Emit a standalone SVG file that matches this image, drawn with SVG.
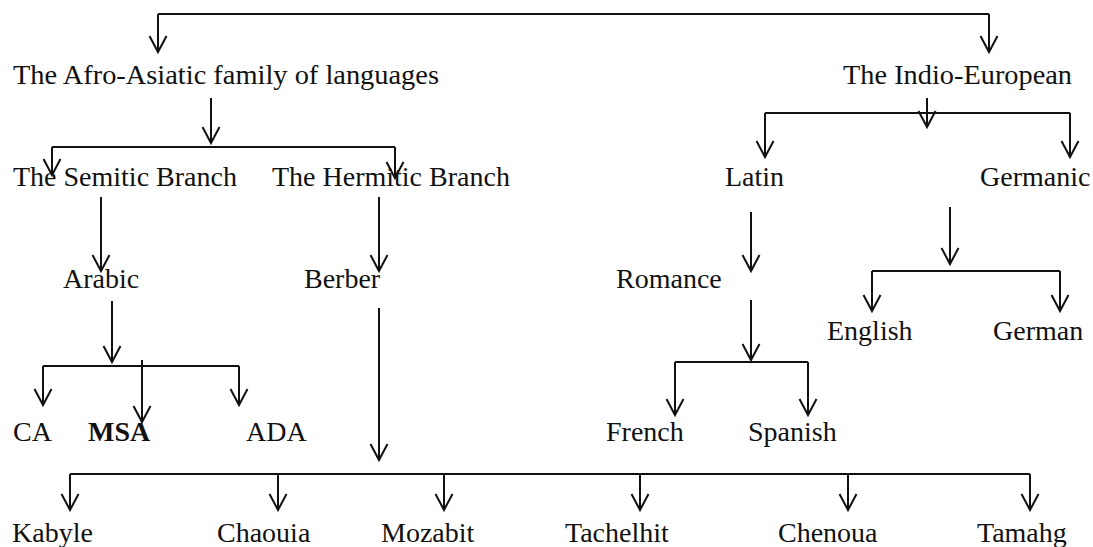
<svg xmlns="http://www.w3.org/2000/svg" width="1093" height="547" viewBox="0 0 1093 547">
<style>
.t{font-family:"Liberation Serif","Times New Roman",serif;font-size:28px;fill:#111}
.b{font-weight:bold}
.c{stroke:#111;stroke-width:2;fill:none}
.a{marker-end:url(#ah)}
</style>
<defs>
<marker id="ah" markerUnits="userSpaceOnUse" markerWidth="20" markerHeight="20" viewBox="-18 -10 20 20" refX="0" refY="0" orient="auto" overflow="visible">
<path d="M-16,-8.5 L0,0 L-16,8.5" fill="none" stroke="#111" stroke-width="2"/>
</marker>
</defs>
<rect width="1093" height="547" fill="#fff"/>
<g id="connectors">
<path class="c" d="M158,14 H989"/>
<path class="c a" d="M158,14 V52"/>
<path class="c a" d="M989,14 V52"/>
<path class="c a" d="M211,98 V143"/>
<path class="c" d="M52,147 H395"/>
<path class="c a" d="M52,147 V175"/>
<path class="c a" d="M395,147 V178"/>
<path class="c a" d="M101,197 V271"/>
<path class="c a" d="M379,197 V271"/>
<path class="c a" d="M112,301 V362"/>
<path class="c" d="M43,366 H239"/>
<path class="c a" d="M43,366 V405"/>
<path class="c a" d="M239,366 V405"/>
<path class="c a" d="M142,360 V422"/>
<path class="c a" d="M379,308 V460"/>
<path class="c" d="M70,474 H1030"/>
<path class="c a" d="M70,474 V510"/>
<path class="c a" d="M278,474 V510"/>
<path class="c a" d="M444,474 V510"/>
<path class="c a" d="M640,474 V510"/>
<path class="c a" d="M848,474 V510"/>
<path class="c a" d="M1030,474 V510"/>
<path class="c a" d="M927,98 V127"/>
<path class="c" d="M765,113 H1070"/>
<path class="c a" d="M765,113 V157"/>
<path class="c a" d="M1070,113 V157"/>
<path class="c a" d="M751,212 V271"/>
<path class="c a" d="M751,300 V360"/>
<path class="c" d="M675,362 H808"/>
<path class="c a" d="M675,362 V415"/>
<path class="c a" d="M808,362 V415"/>
<path class="c a" d="M950,207 V264"/>
<path class="c" d="M872,271 H1060"/>
<path class="c a" d="M872,271 V311"/>
<path class="c a" d="M1060,271 V311"/>
</g>
<g id="afro"><text class="t" x="13" y="84" textLength="426" lengthAdjust="spacingAndGlyphs">The Afro-Asiatic family of languages</text></g>
<g id="indio"><text class="t" x="843" y="84" textLength="229" lengthAdjust="spacingAndGlyphs">The Indio-European</text></g>
<g id="semitic"><text class="t" x="13" y="186">The Semitic Branch</text></g>
<g id="hermitic"><text class="t" x="272" y="186">The Hermitic Branch</text></g>
<g id="latin"><text class="t" x="725" y="186">Latin</text></g>
<g id="germanic"><text class="t" x="980" y="186">Germanic</text></g>
<g id="arabic"><text class="t" x="63" y="288">Arabic</text></g>
<g id="berber"><text class="t" x="304" y="288">Berber</text></g>
<g id="romance"><text class="t" x="616" y="288">Romance</text></g>
<g id="english"><text class="t" x="827" y="340">English</text></g>
<g id="german"><text class="t" x="993" y="340">German</text></g>
<g id="ca"><text class="t" x="13" y="441">CA</text></g>
<g id="msa"><text class="t b" x="88" y="441">MSA</text></g>
<g id="ada"><text class="t" x="246" y="441">ADA</text></g>
<g id="french"><text class="t" x="606" y="441">French</text></g>
<g id="spanish"><text class="t" x="748" y="441">Spanish</text></g>
<g id="kabyle"><text class="t" x="12" y="542">Kabyle</text></g>
<g id="chaouia"><text class="t" x="217" y="542">Chaouia</text></g>
<g id="mozabit"><text class="t" x="381" y="542">Mozabit</text></g>
<g id="tachelhit"><text class="t" x="565" y="542">Tachelhit</text></g>
<g id="chenoua"><text class="t" x="778" y="542">Chenoua</text></g>
<g id="tamahg"><text class="t" x="977" y="542">Tamahg</text></g>
</svg>
